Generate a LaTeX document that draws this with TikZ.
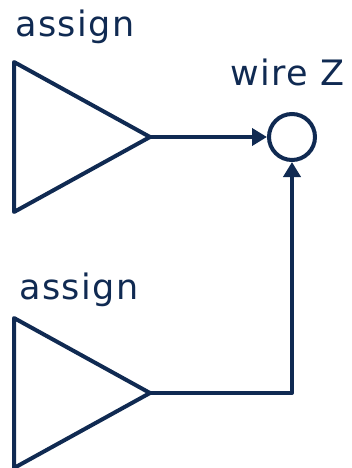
\documentclass[tikz,border=0pt]{standalone}
\usepackage{fontspec}
\setmainfont{DejaVu Sans}[LetterSpace=4]
\usetikzlibrary{arrows.meta}
\definecolor{navy}{RGB}{16,42,82}
\begin{document}
\begin{tikzpicture}[x=1pt,y=-1pt,
  wire/.style={draw=navy,line width=4pt,line join=round},
  arr/.style={wire,-{Triangle[length=15pt,width=17pt]}},
  lbl/.style={text=navy,font=\fontsize{35}{40}\selectfont,anchor=base west,inner sep=0pt}]
\useasboundingbox (0,0) rectangle (351,468);
% labels
\node[lbl] (l1) at (15,37) {assign};
\node[lbl] (lz) at (230,86) {wire Z};
\node[lbl] (l2) at (19,299) {assign};
% triangles
\draw[wire] (14,62) -- (150,137) -- (14,212) -- cycle;
\coordinate (t1) at (150,137);
\draw[wire] (14,318) -- (150,393) -- (14,468) -- cycle;
\coordinate (t2) at (150,393);
% wire node
\node[draw=navy,line width=4pt,circle,minimum size=46pt,inner sep=0pt] (z) at (292,137) {};
\coordinate (c2) at (292,393);
% connectors
\draw[arr] (t1) -- (z.west);
\draw[arr] (t2) -- (c2) -- (z.south);
\end{tikzpicture}
\end{document}
